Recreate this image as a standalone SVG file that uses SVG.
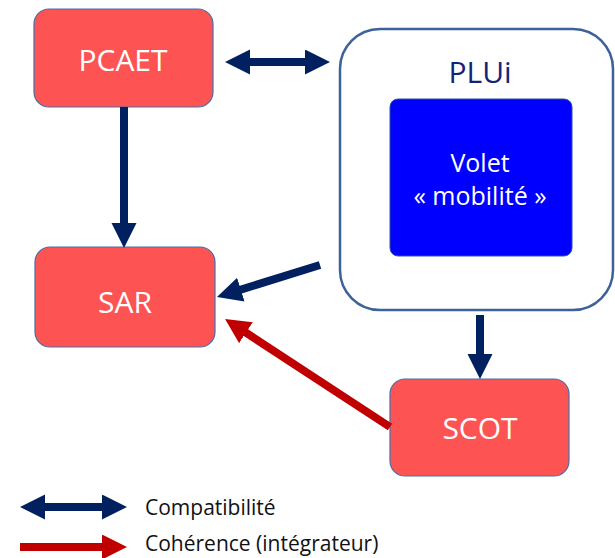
<svg xmlns="http://www.w3.org/2000/svg" width="615" height="558" viewBox="0 0 615 558">
<style>
.box{fill:#fe5353;stroke:#4a6ea8;stroke-width:1.2}
.lbl{font-family:"Open Sans","Liberation Sans",sans-serif;font-size:30px;fill:#ffffff;text-anchor:middle}
.leg{font-family:"Open Sans","Liberation Sans",sans-serif;font-size:21px;fill:#111111}
.nav{stroke:#002060;stroke-width:8;fill:none}
.red{stroke:#c00000;stroke-width:8;fill:none}
</style>
<defs>
<marker id="hn" markerUnits="userSpaceOnUse" markerWidth="26" markerHeight="26" refX="10" refY="12.5" orient="auto-start-reverse" viewBox="0 0 26 26">
<path d="M0,0 L25,12.5 L0,25 z" fill="#002060"/>
</marker>
<marker id="hr" markerUnits="userSpaceOnUse" markerWidth="26" markerHeight="26" refX="10" refY="12.5" orient="auto" viewBox="0 0 26 26">
<path d="M0,0 L25,12.5 L0,25 z" fill="#c00000"/>
</marker>
</defs>
<rect width="615" height="558" fill="#ffffff"/>
<g id="PCAET">
<rect class="box" x="34" y="9" width="179" height="98" rx="15"/>
<text class="lbl" x="123" y="71">PCAET</text>
</g>
<g id="PLUi">
<rect x="340" y="29" width="273" height="281" rx="40" fill="#ffffff" stroke="#3d6199" stroke-width="2.5"/>
<text x="480" y="83" font-family="'Open Sans','Liberation Sans',sans-serif" font-size="30" fill="#14237a" text-anchor="middle">PLUi</text>
</g>
<g id="volet">
<rect x="390" y="99" width="182" height="157" rx="8" fill="#0000ff" stroke="#3050a0" stroke-width="1"/>
<text x="480" y="172" font-family="'Open Sans','Liberation Sans',sans-serif" font-size="25" fill="#ffffff" text-anchor="middle">Volet</text>
<text x="480" y="205" font-family="'Open Sans','Liberation Sans',sans-serif" font-size="25" fill="#ffffff" text-anchor="middle">« mobilité »</text>
</g>
<g id="SAR">
<rect class="box" x="35" y="247" width="180" height="100" rx="15"/>
<text class="lbl" x="125" y="313">SAR</text>
</g>
<g id="SCOT">
<rect class="box" x="390" y="379" width="179" height="97" rx="15"/>
<text class="lbl" x="480" y="439">SCOT</text>
</g>
<g id="connectors">
<line class="nav" x1="240" y1="62" x2="315" y2="62" stroke-width="7" marker-start="url(#hn)" marker-end="url(#hn)"/>
<line class="nav" x1="124" y1="107" x2="124" y2="233" marker-end="url(#hn)"/>
<line class="nav" x1="320" y1="265" x2="231.3" y2="292.6" marker-end="url(#hn)"/>
<line class="red" x1="390" y1="427" x2="237.6" y2="327.2" marker-end="url(#hr)"/>
<line class="nav" x1="480" y1="315" x2="480" y2="364" marker-end="url(#hn)"/>
</g>
<g id="legend">
<line class="nav" x1="35" y1="507" x2="112" y2="507" stroke-width="7" marker-start="url(#hn)" marker-end="url(#hn)"/>
<line class="red" x1="20" y1="547" x2="112" y2="547" marker-end="url(#hr)"/>
<text class="leg" x="145" y="515">Compatibilité</text>
<text class="leg" x="145" y="551">Cohérence (intégrateur)</text>
</g>
</svg>
